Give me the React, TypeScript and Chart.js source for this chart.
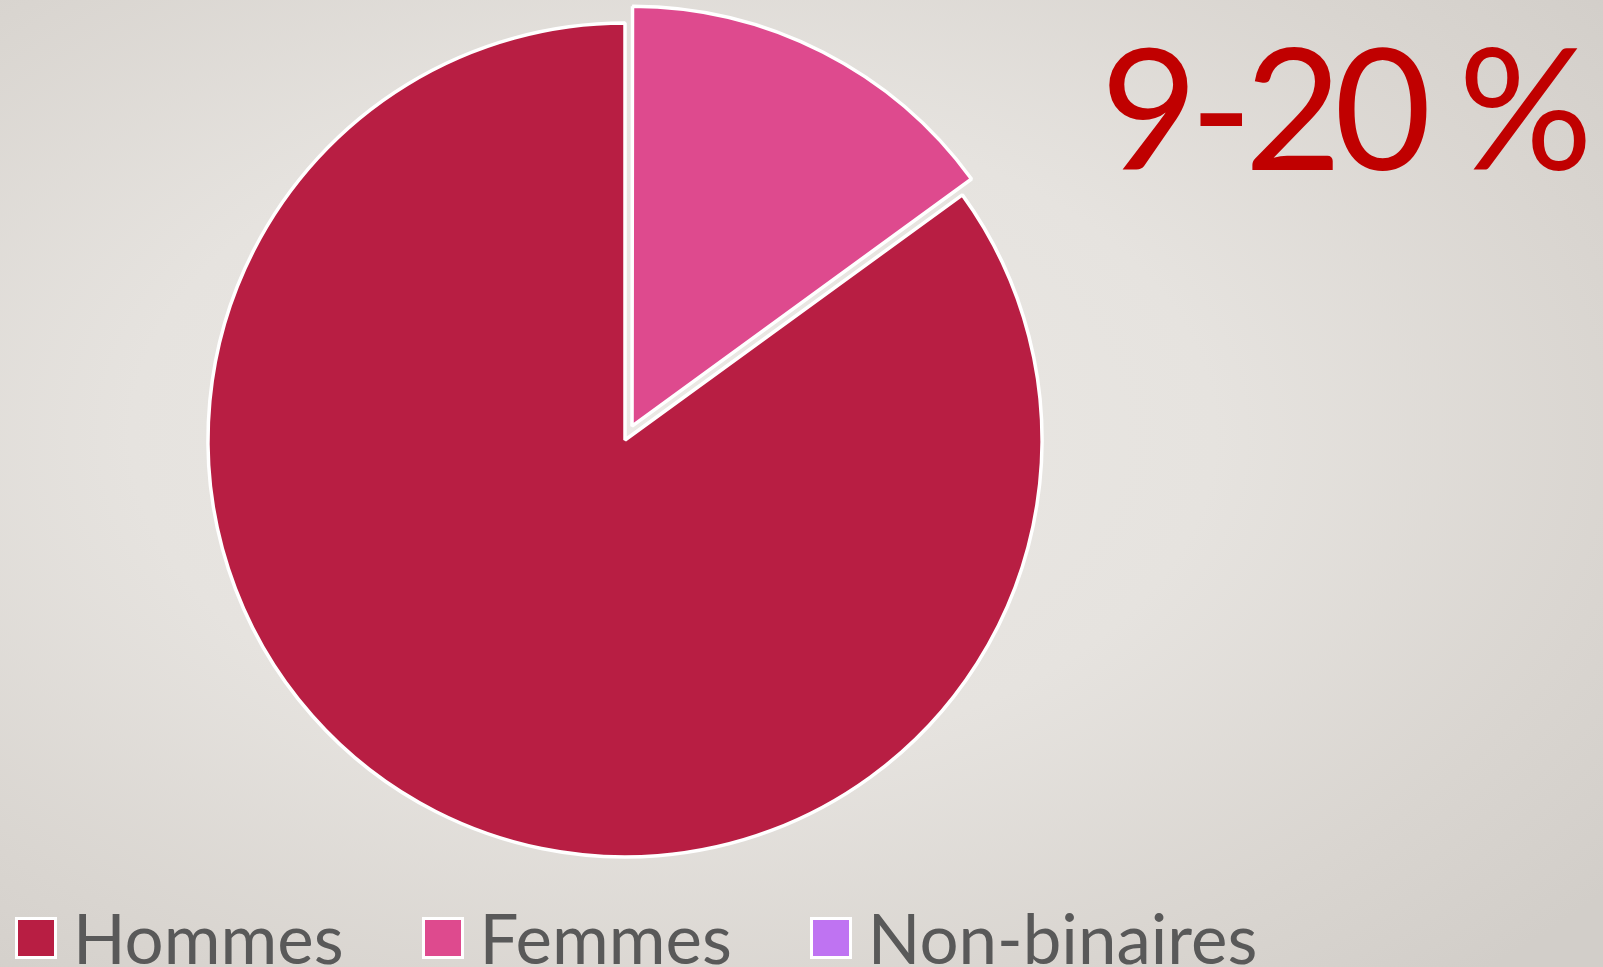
import React, { useEffect, useRef } from "react";
import { Chart, registerables } from "chart.js";

Chart.register(...registerables);

const categories = ["Hommes", "Femmes", "Non-binaires"];
const shares = [85, 15, 0];
const sliceColors = ["#B81E43", "#DE4A8E", "#BF73F2"];
// Chart.js draws arc offset at offset/4 pixels
const sliceOffsets = [0, 62, 0];
const headline = "9-20 %";

const FONT = "Lato, 'Open Sans', 'DejaVu Sans', sans-serif";

export default function App() {
  const ref = useRef<HTMLCanvasElement | null>(null);

  useEffect(() => {
    if (!ref.current) return;
    const chart = new Chart(ref.current, {
      type: "pie",
      data: {
        labels: categories,
        datasets: [
          {
            data: shares,
            backgroundColor: sliceColors,
            borderColor: "#ffffff",
            borderWidth: 3.5,
            offset: sliceOffsets,
            hoverOffset: 0,
            clip: false as any,
          },
        ],
      },
      options: {
        responsive: false,
        animation: false,
        rotation: 54,
        radius: 417,
        layout: { padding: { left: 0, right: 353, top: 0, bottom: 87 } },
        plugins: {
          legend: { display: false },
          tooltip: { enabled: false },
          title: { display: false },
        },
      },
    });
    return () => chart.destroy();
  }, []);

  return (
    <div
      style={{
        position: "fixed",
        left: 0,
        top: 0,
        width: 1603,
        height: 967,
        overflow: "hidden",
        background:
          "radial-gradient(ellipse 75% 75% at 42% 45%, #ebe9e5 0%, #e6e3df 45%, #d9d5d0 80%, #d2cec9 100%)",
        fontFamily: FONT,
      }}
    >
      <canvas
        ref={ref}
        width={1603}
        height={967}
        style={{ position: "absolute", left: 0, top: 0, width: 1603, height: 967 }}
      />
      <div
        style={{
          position: "absolute",
          right: 18,
          top: 5,
          fontSize: 168,
          lineHeight: "200px",
          color: "#C00000",
          letterSpacing: -8,
          whiteSpace: "nowrap",
        }}
      >
        {headline}
      </div>
      <div
        style={{
          position: "absolute",
          left: 15,
          top: 895,
          display: "flex",
          alignItems: "center",
          height: 86,
          whiteSpace: "nowrap",
        }}
      >
        {categories.map((c, i) => (
          <div
            key={c}
            style={{ display: "flex", alignItems: "center", marginRight: 78 }}
          >
            <span
              style={{
                display: "inline-block",
                width: 36,
                height: 36,
                background: sliceColors[i],
                border: "3px solid #ffffff",
                marginRight: 16,
              }}
            />
            <span style={{ fontSize: 69, color: "#595959", lineHeight: "86px" }}>{c}</span>
          </div>
        ))}
      </div>
    </div>
  );
}
